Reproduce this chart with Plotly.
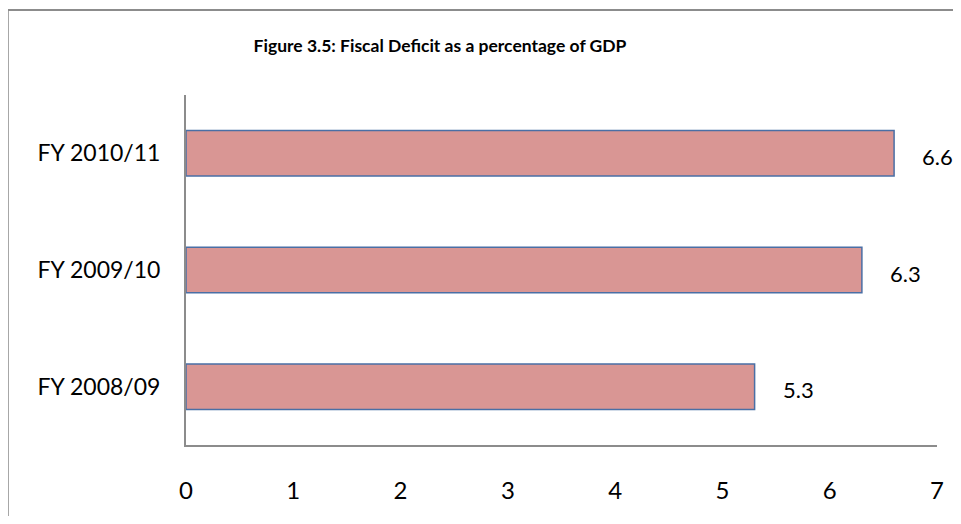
import plotly.graph_objects as go

categories = ["FY 2008/09", "FY 2009/10", "FY 2010/11"]
values = [5.3, 6.3, 6.6]
x_ticks = [0, 1, 2, 3, 4, 5, 6, 7]
title = "<b>Figure 3.5: Fiscal Deficit as a percentage of GDP</b>"

FONT = "Lato, Open Sans, sans-serif"
W, H = 953, 508

fig = go.Figure()
fig.add_trace(go.Bar(
    y=categories, x=values, orientation="h",
    marker=dict(color="#D99694", line=dict(color="#4A6FA5", width=1.5)),
    width=0.39,
))

for c, v in zip(categories, values):
    fig.add_annotation(x=v, y=c, text=f"{v:.1f}", showarrow=False,
                       xanchor="left", xshift=26, yshift=-3,
                       font=dict(family=FONT, size=22, color="#000"))

fig.add_shape(type="rect", xref="paper", yref="paper",
              x0=(8 - 186) / 750, x1=1.3, y0=-0.5, y1=1 + 85 / 350,
              line=dict(color="#8C8C8C", width=2), fillcolor="rgba(0,0,0,0)")

fig.update_layout(
    width=W, height=H,
    margin=dict(l=178, r=24, t=87, b=65),
    paper_bgcolor="white", plot_bgcolor="white",
    showlegend=False,
    title=dict(text=title, x=(432 / W), xanchor="center", y=1 - 38 / H, yanchor="middle",
               font=dict(family=FONT, size=17.5, color="#000")),
    xaxis=dict(range=[0, 7], tickvals=x_ticks, showgrid=False, zeroline=False,
               showline=True, linecolor="#8C8C8C", linewidth=2,
               ticks="outside", ticklen=23, tickcolor="rgba(0,0,0,0)",
               tickfont=dict(family=FONT, size=24, color="#000")),
    yaxis=dict(range=[-0.5, 2.5], showgrid=False, zeroline=False,
               showline=True, linecolor="#8C8C8C", linewidth=2,
               ticks="outside", ticklen=19, tickcolor="rgba(0,0,0,0)",
               tickfont=dict(family=FONT, size=23, color="#000")),
)

fig.write_html("out.html")
